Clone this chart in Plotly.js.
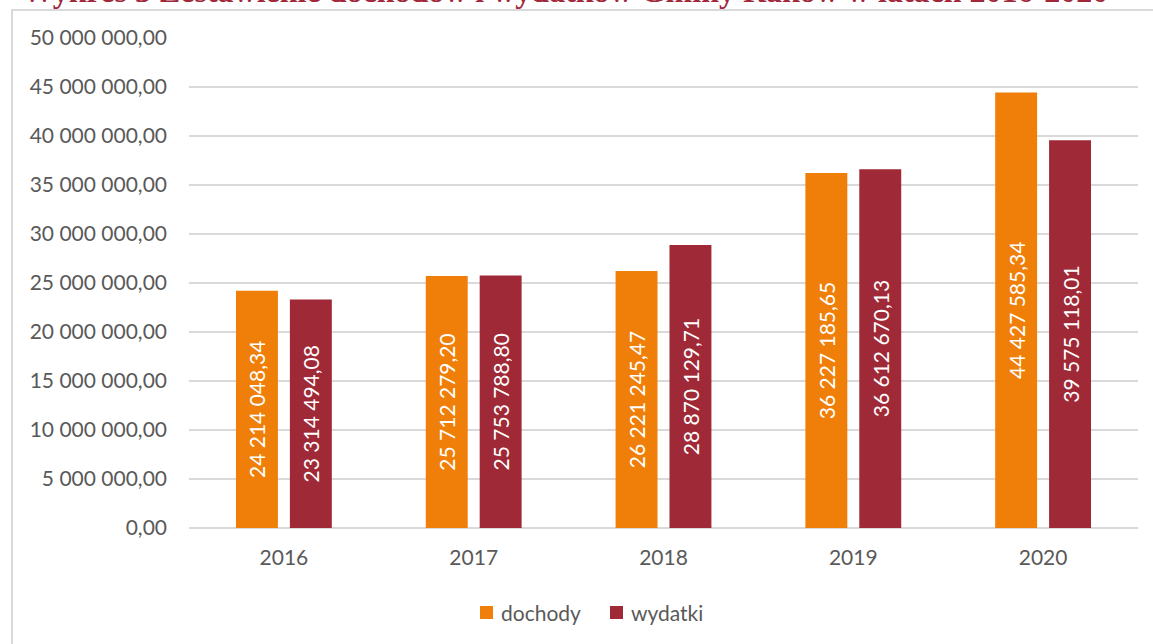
<!DOCTYPE html>
<html>
<head>
<meta charset="utf-8">
<script src="https://cdn.plot.ly/plotly-3.0.1.min.js"></script>
<style>
  html, body { margin: 0; padding: 0; width: 1153px; height: 644px; overflow: hidden; background: #ffffff; }
  #frame { position: absolute; left: 11px; top: 9px; width: 2000px; height: 2000px; border: 2px solid #d9d9d9; box-sizing: border-box; }
  #chart { position: absolute; left: 0; top: 0; width: 1153px; height: 644px; }
</style>
</head>
<body>
<div id="frame"></div>
<div id="chart"></div>
<script>
const titleText = 'Wykres 3 Zestawienie dochodów i wydatków Gminy Raków w latach 2016-2020';
const years = ['2016', '2017', '2018', '2019', '2020'];
const dochody = [24214048.34, 25712279.20, 26221245.47, 36227185.65, 44427585.34];
const wydatki = [23314494.08, 25753788.80, 28870129.71, 36612670.13, 39575118.01];
const seriesNames = ['dochody', 'wydatki'];
const seriesColors = ['#F07F09', '#9F2936'];

const W = 1153, H = 644;
const M = {l: 189, r: 15, t: 38, b: 116};
const PW = W - M.l - M.r, PH = H - M.t - M.b;
const px = x => (x - M.l) / PW;
const py = y => (H - M.b - y) / PH;

const textFont = {family: 'Lato, "Open Sans", sans-serif', size: 21, color: '#ffffff'};
const axisFont = {family: 'Lato, "Open Sans", sans-serif', size: 21, color: '#595959'};

function barTrace(name, vals, color) {
  return {
    type: 'bar', name: name, x: years, y: vals,
    marker: {color: color, line: {width: 0}},
    texttemplate: '%{y:,.2f}',
    textposition: 'inside',
    insidetextanchor: 'middle',
    textangle: -90,
    textfont: textFont,
    hoverinfo: 'skip',
    showlegend: false
  };
}

const data = [
  barTrace(seriesNames[0], dochody, seriesColors[0]),
  barTrace(seriesNames[1], wydatki, seriesColors[1])
];

// custom legend (square + label) placed below the plot
const legendItems = [{sx: 480, tx: 499}, {sx: 610, tx: 629}];
const legendShapes = legendItems.map((it, i) => ({
  type: 'rect', xref: 'paper', yref: 'paper',
  x0: px(it.sx), x1: px(it.sx + 13), y0: py(619), y1: py(606),
  fillcolor: seriesColors[i], line: {width: 0}
}));
const legendAnns = legendItems.map((it, i) => ({
  text: seriesNames[i], xref: 'paper', yref: 'paper',
  x: px(it.tx), xanchor: 'left', y: py(612), yanchor: 'middle',
  showarrow: false, font: axisFont
}));

const layout = {
  width: W, height: H,
  separators: ', ',
  paper_bgcolor: 'rgba(0,0,0,0)',
  plot_bgcolor: 'rgba(0,0,0,0)',
  margin: {l: M.l, r: M.r, t: M.t, b: M.b, pad: 0},
  barmode: 'group',
  bargap: 0.432,
  bargroupgap: 0.222,
  showlegend: false,
  xaxis: {
    type: 'category', tickfont: axisFont, showgrid: false, zeroline: false,
    showline: false, ticks: '', ticklabelstandoff: 15
  },
  yaxis: {
    range: [0, 50000000], dtick: 5000000, tick0: 0,
    tickformat: ',.2f', tickfont: axisFont,
    showgrid: true, gridcolor: '#d9d9d9', gridwidth: 1.5,
    zeroline: true, zerolinecolor: '#d9d9d9', zerolinewidth: 1.5,
    showline: false, ticks: '', ticklabelstandoff: 21
  },
  shapes: legendShapes,
  annotations: [{
    text: titleText, xref: 'paper', yref: 'paper',
    x: px(20), xanchor: 'left',
    y: py(-9), yanchor: 'middle', showarrow: false,
    font: {family: '"Liberation Serif", "Times New Roman", serif', size: 32, color: '#A0283A', weight: 'bold'}
  }].concat(legendAnns)
};

Plotly.newPlot('chart', data, layout, {displayModeBar: false, staticPlot: true});
</script>
</body>
</html>
